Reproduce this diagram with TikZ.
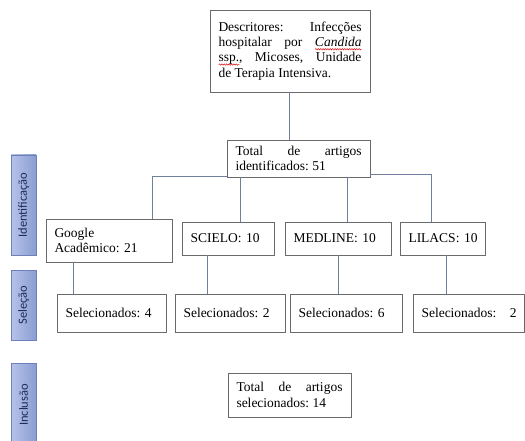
\documentclass[tikz,border=0pt]{standalone}
\usepackage{fontspec}
\setmainfont{Liberation Serif}
\newfontfamily\barfont{Carlito}
\usepackage{graphicx}
\usetikzlibrary{decorations.pathmorphing}
\frenchspacing
\newcommand\redwave[1]{\setbox0\hbox{#1}\rlap{\smash{\raisebox{-3.5pt}{\tikz[x=1pt,y=1pt]\draw[red!85!black, line width=0.45pt, decorate, decoration={snake, amplitude=0.7pt, segment length=2.4pt}] (0,0) -- (\wd0,0);}}}\box0}
\newcommand\oneline[1]{\makebox[\linewidth][l]{#1}}
\definecolor{boxline}{HTML}{6A6A6A}
\definecolor{connline}{HTML}{6F7F9C}
\definecolor{barL}{HTML}{B6C3E9}
\definecolor{barR}{HTML}{8A9DD2}
\definecolor{barB}{HTML}{6E80B6}
\definecolor{barT}{HTML}{1E2B58}
\tikzset{
  box/.style={draw=boxline, line width=0.8pt, inner xsep=8.5pt, inner ysep=2pt,
    font=\fontsize{13.5}{15.3}\selectfont},
  jbox/.style={box, align=justify},
  lbox/.style={box, align=left},
  conn/.style={draw=connline, line width=0.9pt},
  sidebar/.style={draw=barB, line width=0.6pt, left color=barL, right color=barR,
    minimum width=25pt, inner sep=0pt, text=barT, font=\barfont\fontsize{12.5}{14}\selectfont},
}
\begin{document}
\begin{tikzpicture}[x=1pt,y=-1pt]
\useasboundingbox (0,0) rectangle (525,441);
% side bars
\node[sidebar, minimum height=100pt] (bid) at (23.5,205) {\rotatebox{90}{Identificação}};
\node[sidebar, minimum height=70pt] (bsel) at (23.5,305) {\rotatebox{90}{Seleção}};
\node[sidebar, minimum height=84pt] (binc) at (23.5,405) {\rotatebox{90}{Inclusão}};
% boxes
\node[jbox, text width=143pt, minimum height=82pt] (top) at (290,51)
  {Descritores: Infecções\linebreak hospitalar por \redwave{\textit{Candida}}\linebreak \redwave{ssp.}, Micoses, Unidade\linebreak de Terapia Intensiva.\par\vspace*{5pt}};
\node[jbox, text width=126pt, minimum height=37pt] (total) at (298.5,158.5)
  {Total de artigos\linebreak identificados: 51};
\node[lbox, text width=109pt, minimum height=43pt] (google) at (109,240.5)
  {Google\\Acadêmico: 21};
\node[lbox, text width=75pt, minimum height=33pt] (scielo) at (228,238.5) {\oneline{SCIELO: 10}};
\node[lbox, text width=89pt, minimum height=33pt] (medline) at (338,238.5) {\oneline{MEDLINE: 10}};
\node[lbox, text width=68pt, minimum height=33pt] (lilacs) at (442.5,238.5) {\oneline{LILACS: 10}};
\node[lbox, text width=92pt, minimum height=38pt] (sel1) at (111.5,313) {\oneline{Selecionados: 4}\par\vspace*{4pt}};
\node[lbox, text width=93pt, minimum height=38pt] (sel2) at (230,313) {\oneline{Selecionados: 2}\par\vspace*{4pt}};
\node[lbox, text width=95pt, minimum height=38pt] (sel3) at (346,313) {\oneline{Selecionados: 6}\par\vspace*{4pt}};
\node[lbox, text width=94pt, minimum height=38pt] (sel4) at (468.5,313) {\oneline{Selecionados:\ \ \ 2}\par\vspace*{4pt}};
\node[jbox, text width=106pt, minimum height=44pt] (final) at (289.5,395)
  {Total de artigos\linebreak selecionados: 14};
% connectors
\draw[conn] ([xshift=-1pt]top.south) -- ([xshift=-1pt]top.south |- total.north);
\draw[conn] ([yshift=1pt]total.south west) -| ([xshift=-20pt]google.north east);
\draw[conn] ([yshift=3pt]total.south east) -| ([xshift=32pt]lilacs.north west);
\draw[conn] ([xshift=14pt]total.south west) -- ([xshift=14pt]total.south west |- scielo.north);
\draw[conn] ([xshift=-23pt]total.south east) -- ([xshift=-23pt]total.south east |- medline.north);
\draw[conn] ([xshift=28pt]google.south west) -- ([xshift=28pt]google.south west |- sel1.north);
\draw[conn] ([xshift=26pt]scielo.south west) -- ([xshift=26pt]scielo.south west |- sel2.north);
\draw[conn] (medline.south) -- (medline.south |- sel3.north);
\draw[conn] ([xshift=47pt]lilacs.south west) -- ([xshift=47pt]lilacs.south west |- sel4.north);
\end{tikzpicture}
\end{document}
